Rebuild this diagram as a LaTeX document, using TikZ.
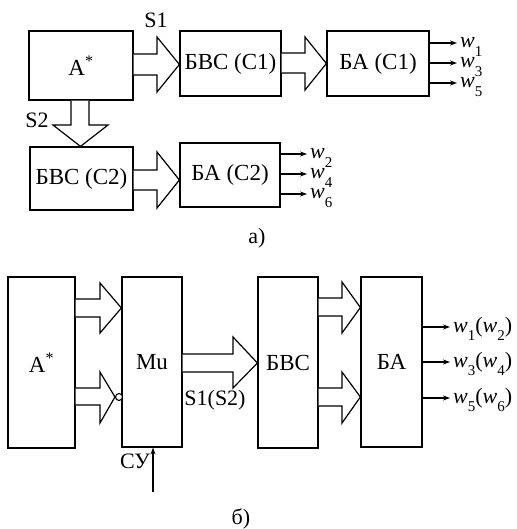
\documentclass[tikz,border=0pt]{standalone}
\usepackage{fontspec}
\setmainfont{Liberation Serif}
\usetikzlibrary{arrows.meta,calc}
\newcommand\wl[1]{\textit{w}\raisebox{-0.4em}{\fontsize{15}{15}\selectfont #1}}
\begin{document}
\begin{tikzpicture}[x=1pt,y=-1pt,
 box/.style={draw, line width=1.2pt, inner sep=0pt, font=\fontsize{23}{26}\selectfont},
 blk/.style={draw, line width=1.2pt, fill=white, line join=miter},
 outw/.style={line width=1.1pt, -{Stealth[length=7pt,width=5pt]}},
 lab/.style={font=\fontsize{22}{26}\selectfont, inner sep=0pt},
 wlab/.style={font=\fontsize{22}{26}\selectfont, inner sep=0pt, anchor=base west}]
\useasboundingbox (0,0) rectangle (516,529);

% ---------- part a ----------
\node[box, minimum width=104pt, minimum height=69pt] (A) at (81,65.5) {A\textsuperscript{*}};
\node[box, minimum width=101pt, minimum height=65pt] (B1) at (230.5,63.5) {БВС (C1)};
\node[box, minimum width=102pt, minimum height=65pt] (BA1) at (378,63.5) {БА (C1)};
\node[box, minimum width=103pt, minimum height=63pt] (B2) at (81.5,178.5) {БВС (C2)};
\node[box, minimum width=100pt, minimum height=64pt] (BA2) at (230,175) {БА (C2)};

\draw[blk] (A.east |- 0,54) -- (157,54) -- (157,37) -- (B1.west |- 0,64.5) -- (157,92) -- (157,75) -- (A.east |- 0,75);
\draw[blk] (B1.east |- 0,53) -- (305,53) -- (305,37) -- (BA1.west |- 0,63.5) -- (305,90) -- (305,73) -- (B1.east |- 0,73);
\draw[blk] (A.south -| 71,0) -- (71,125) -- (53,125) -- (B2.north -| 80.5,0) -- (108,125) -- (89,125) -- (A.south -| 89,0);
\draw[blk] (B2.east |- 0,170) -- (157,170) -- (157,152) -- (BA2.west |- 0,180) -- (157,208) -- (157,190) -- (B2.east |- 0,190);

\node[lab] (s1) at (156,20) {S1};
\node[lab] (s2) at (37,120) {S2};

\draw[outw] (BA1.east |- 0,43) -- (457,43);
\draw[outw] (BA1.east |- 0,63) -- (457,63);
\draw[outw] (BA1.east |- 0,83) -- (457,83);
\node[wlab] (w1) at (460,48) {\wl{1}};
\node[wlab] (w3) at (460,68) {\wl{3}};
\node[wlab] (w5) at (460,88) {\wl{5}};

\draw[outw] (BA2.east |- 0,154) -- (307,154);
\draw[outw] (BA2.east |- 0,174) -- (307,174);
\draw[outw] (BA2.east |- 0,194) -- (307,194);
\node[wlab] (w2) at (310,159) {\wl{2}};
\node[wlab] (w4) at (310,179) {\wl{4}};
\node[wlab] (w6) at (310,199) {\wl{6}};

\node[lab] (la) at (257,238) {а)};

% ---------- part b ----------
\node[box, minimum width=67pt, minimum height=171pt] (Ab) at (41.5,362.5) {A\textsuperscript{*}};
\node[box, minimum width=60pt, minimum height=170pt] (Mu) at (152,362) {Mu};
\node[box, minimum width=60pt, minimum height=171pt] (BVS) at (288,362.5) {БВС};
\node[box, minimum width=61pt, minimum height=170pt] (BA) at (391.5,362) {БА};

\draw[blk] (Ab.east |- 0,299) -- (100,299) -- (100,283) -- (Mu.west |- 0,308) -- (100,333) -- (100,317) -- (Ab.east |- 0,317);
\node[draw, circle, line width=1.1pt, minimum size=7pt, inner sep=0pt, fill=white] (inv) at (119,397) {};
\draw[blk] (Ab.east |- 0,388) -- (100,388) -- (100,372) -- (inv.west) -- (100,423) -- (100,405) -- (Ab.east |- 0,405);
\draw[blk] (Mu.east |- 0,354) -- (233,354) -- (233,337) -- (BVS.west |- 0,363) -- (233,388) -- (233,372) -- (Mu.east |- 0,372);
\draw[blk] (BVS.east |- 0,298) -- (342,298) -- (342,282) -- (BA.west |- 0,307.5) -- (342,333) -- (342,316) -- (BVS.east |- 0,316);
\draw[blk] (BVS.east |- 0,388) -- (342,388) -- (342,372) -- (BA.west |- 0,397) -- (342,423) -- (342,406) -- (BVS.east |- 0,406);

\node[lab] (s12) at (215,400) {S1(S2)};

\draw[outw] (BA.east |- 0,327) -- (450,327);
\draw[outw] (BA.east |- 0,362) -- (450,362);
\draw[outw] (BA.east |- 0,398) -- (450,398);
\node[wlab] (wb1) at (453,332) {\wl{1}(\wl{2})};
\node[wlab] (wb3) at (453,367) {\wl{3}(\wl{4})};
\node[wlab] (wb5) at (453,403) {\wl{5}(\wl{6})};

\coordinate (cu) at (153,492);
\draw[outw] (cu) -- (Mu.south -| cu);
\node[lab] (cul) at (135,461) {СУ};

\node[lab] (lb) at (241,519) {б)};
\end{tikzpicture}
\end{document}
